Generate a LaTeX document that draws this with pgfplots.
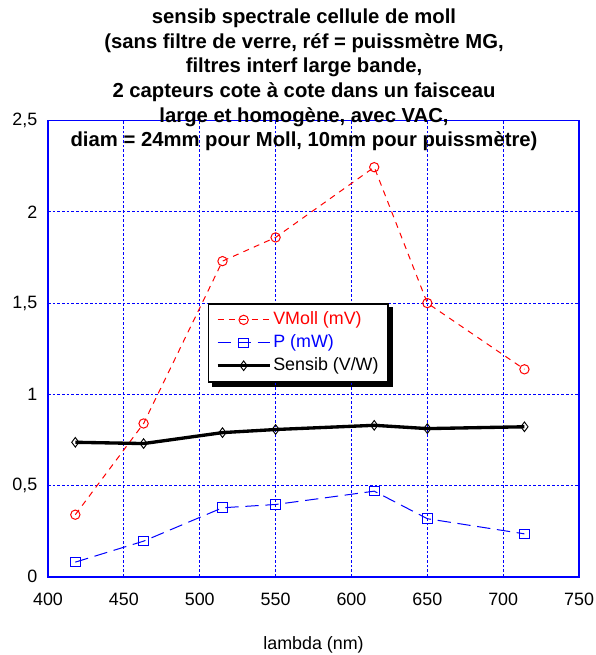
\documentclass[border=0pt]{standalone}
\usepackage{fontspec}
\setmainfont{Liberation Sans}
\usepackage{pgfplots}
\pgfplotsset{compat=1.18}
\pgfdeclarelayer{background}
\pgfsetlayers{background,main}
\pgfplotstableread{
x vmoll p sensib
418 0.34 0.080 0.737
463 0.84 0.195 0.730
515 1.73 0.378 0.790
550 1.86 0.396 0.807
615 2.245 0.469 0.830
650 1.50 0.318 0.812
714 1.137 0.235 0.822
}\datatable
\begin{document}
\begin{tikzpicture}
\useasboundingbox (-36pt,-58.7pt) rectangle (410.25pt,432.5pt);
\begin{axis}[
  at={(0pt,0pt)}, anchor=south west,
  scale only axis, width=398.25pt, height=342pt,
  xmin=400, xmax=750, ymin=0, ymax=2.5,
  xtick={400,450,...,750}, ytick={0,0.5,1,1.5,2,2.5},
  grid=major,
  grid style={blue, line width=0.6pt, dash pattern=on 2pt off 1.5pt},
  axis line style={blue, line width=1.2pt},
  major tick length=0pt,
  /pgf/number format/use comma,
  /pgf/number format/assume math mode=true,
  /pgf/number format/1000 sep={},
  ticklabel style={font=\fontsize{13.4}{16}\selectfont},
  xticklabel style={yshift=-9pt},
  yticklabel style={xshift=-4.5pt},
  xlabel={lambda (nm)},
  xlabel style={at={(axis description cs:0.5,0)}, anchor=center, yshift=-51.2pt, font=\fontsize{13.4}{16}\selectfont},
  legend style={name=L, at={(axis description cs:0.301,0.6)}, anchor=north west,
    draw=black, line width=1.2pt, fill=white,
    inner xsep=5.5pt, inner ysep=4pt, row sep=1.2pt,
    font=\fontsize{13.4}{16}\selectfont,
    nodes={inner sep=1.5pt, text height=10pt, text depth=3pt}},
  legend cell align=left,
  legend image code/.code={\draw[mark repeat=2,mark phase=2] plot coordinates {(0pt,0pt) (19.5pt,0pt) (39pt,0pt)};},
]
\addplot[red, line width=0.75pt, dash pattern=on 4.5pt off 4pt, mark=o, mark size=3.5pt, mark options={solid, line width=0.75pt}] table[x=x, y=vmoll] {\datatable};
\addlegendentry{\textcolor{red}{VMoll (mV)}}
\addplot[blue, line width=0.75pt, dash pattern=on 10pt off 5pt, mark=square, mark size=3.6pt, mark options={solid, line width=0.75pt}] table[x=x, y=p] {\datatable};
\addlegendentry{\textcolor{blue}{P (mW)}}
\addplot[black, line width=2.5pt, mark=diamond, mark size=3.6pt, mark options={solid, line width=0.7pt, fill=white}] table[x=x, y=sensib] {\datatable};
\addlegendentry{Sensib (V/W)}
\end{axis}
\begin{pgfonlayer}{background}
\fill[black] ([xshift=3pt,yshift=-3pt]L.south west) rectangle ([xshift=3pt,yshift=-3pt]L.north east);
\end{pgfonlayer}
\begin{scope}[font=\fontsize{15.2}{18.4}\selectfont\bfseries]
\node[anchor=base] at (192pt,414.5pt) {sensib spectrale cellule de moll};
\node[anchor=base] at (192pt,396.2pt) {(sans filtre de verre, réf = puissmètre MG,};
\node[anchor=base] at (192pt,377.8pt) {filtres interf large bande,};
\node[anchor=base] at (192pt,359.4pt) {2 capteurs cote à cote dans un faisceau};
\node[anchor=base] at (192pt,341.0pt) {large et homogène, avec VAC,};
\node[anchor=base] at (192pt,322.7pt) {diam = 24mm pour Moll, 10mm pour puissmètre)};
\end{scope}
\end{tikzpicture}
\end{document}
